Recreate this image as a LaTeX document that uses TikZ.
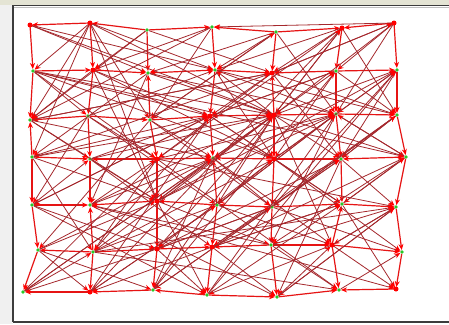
\documentclass[tikz,border=0pt]{standalone}
\usetikzlibrary{arrows.meta}
\definecolor{edgecol}{RGB}{165,40,45}
\definecolor{gridcol}{RGB}{230,20,20}
\definecolor{topstrip}{RGB}{228,228,212}
\definecolor{framecol}{RGB}{60,60,60}
\definecolor{dotgreen}{RGB}{40,200,40}
\tikzset{
  vtx/.style={circle,fill=dotgreen,inner sep=0pt,minimum size=3.6pt},
  arc/.style={draw=edgecol,line width=0.8pt,-{Stealth[length=6pt,width=5pt,color=red]}},
  gridarc/.style={draw=gridcol,line width=1.2pt,-{Stealth[length=6pt,width=5pt,color=red]}},
  hub/.style={circle,fill=red,inner sep=0pt,minimum size=5pt}
}
\begin{document}
\begin{tikzpicture}[x=1pt,y=-1pt]
\useasboundingbox (0,0) rectangle (449,324);
\fill[white] (0,0) rectangle (449,324);
\fill[topstrip] (0,0) rectangle (449,4.5);
\fill[black!6] (0,4.5) rectangle (12.5,324);
\draw[framecol,line width=1.3pt] (12.5,5.5) -- (449,5.5);
\draw[black!25,line width=0.8pt] (13.5,7.5) -- (449,7.5);
\draw[framecol,line width=1.3pt] (13,5) -- (13,322);
\draw[framecol,line width=1.3pt] (12.5,322) -- (449,322);
% nodes
\foreach \n/\x/\y in {
 11/30/25, 12/90/23, 13/147/30, 14/212/27, 15/276/32, 16/342/28, 17/394/23,
 21/33/71, 22/93/70, 23/148/73, 24/215/70, 25/272/73, 26/336/71, 27/397/70,
 31/30/120, 32/88/116, 33/150/120, 34/210/116, 35/274/115, 36/336/114, 37/397/115,
 41/32/157, 42/90/159, 43/157/159, 44/213/158, 45/274/159, 46/341/159, 47/406/157,
 51/32/205, 52/90/205, 53/157/201, 54/217/205, 55/272/207, 56/342/204, 57/396/207,
 61/38/250, 62/93/252, 63/157/249, 64/212/247, 65/271/245, 66/332/245, 67/402/252,
 71/23/292, 72/90/292, 73/153/290, 74/207/295, 75/277/297, 76/339/290, 77/396/289}
 \node[vtx] (n\n) at (\x,\y) {};
% grid edges
\foreach \a/\b in {
 12/11,13/12,13/14,15/14,15/16,17/16,
 21/22,22/23,24/23,24/25,26/25,26/27,
 32/31,32/33,33/34,35/34,35/36,36/37,
 41/42,43/42,43/44,45/44,45/46,47/46,
 51/52,52/53,54/53,55/54,55/56,56/57,
 62/61,62/63,63/64,65/64,65/66,66/67,
 72/71,73/72,74/73,74/75,75/76,77/76,
 11/21,21/31,41/31,41/51,51/61,61/71,
 12/22,22/32,32/42,42/52,62/52,62/72,
 13/23,33/23,33/43,43/53,53/63,63/73,
 14/24,24/34,34/44,54/44,54/64,64/74,
 15/25,35/25,35/45,45/55,55/65,65/75,
 16/26,26/36,36/46,46/56,66/56,66/76,
 17/27,27/37,37/47,47/57,57/67,67/77}
 \draw[gridarc] (n\a) -- (n\b);
% long edges
\foreach \a/\b in {
 11/23,11/35,11/24,
 12/21,12/31,12/41,12/33,12/24,12/35,12/53,
 13/22,13/31,13/25,
 14/22,14/31,14/33,
 15/23,15/24,15/36,15/33,
 16/24,16/25,16/35,16/37,16/43,
 17/26,17/25,17/35,17/36,17/14,
 21/32,21/43,21/35,21/34,21/45,21/47,
 22/34,22/45,22/53,22/31,
 23/35,23/36,23/41,23/52,
 24/36,24/45,24/37,
 25/17,25/34,25/46,25/43,25/37,25/31,
 26/37,26/45,26/44,26/34,
 27/36,27/35,27/46,27/55,
 31/44,31/53,31/42,31/25,
 32/43,32/54,32/24,32/51,
 33/44,33/55,33/61,33/15,
 34/45,34/56,34/51,34/62,
 35/46,35/47,35/53,35/54,35/63,35/66,35/41,35/24,35/16,35/62,
 36/47,36/54,36/65,36/44,
 37/46,37/55,37/64,
 41/53,41/62,41/34,41/25,
 42/53,42/64,42/35,42/26,
 43/57,43/76,43/36,43/62,43/71,
 44/55,44/66,44/73,44/52,
 45/56,45/67,45/63,45/36,45/27,
 46/57,46/64,46/75,46/37,
 47/56,47/65,47/36,
 51/63,51/74,51/42,51/34,
 52/77,52/43,52/35,52/75,
 53/65,53/74,53/44,53/36,53/27,
 54/66,54/72,54/45,54/36,
 55/67,55/73,55/46,55/37,55/63,
 56/77,56/64,56/47,
 57/66,57/75,
 61/72,61/53,61/44,61/73,
 62/57,62/54,62/45,62/76,
 63/74,63/55,63/46,63/71,
 64/75,64/56,64/47,64/72,
 65/76,65/57,65/52,
 66/77,66/57,66/74,
 71/62,71/35,71/44,
 72/34,72/54,72/16,
 73/35,73/26,73/55,
 74/36,74/27,74/56,
 75/66,75/57,
 76/67}
 \draw[arc] (n\a) -- (n\b);
% red blobs where many arrow tips meet
\foreach \n in {11,12,22,35,45,53,63,64,66,77,17,16,43,72,25,34}
 \node[hub] at (n\n) {};
\end{tikzpicture}
\end{document}
